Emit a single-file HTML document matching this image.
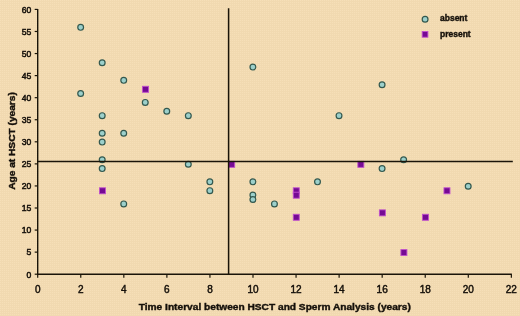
<!DOCTYPE html>
<html lang="en"><head><meta charset="utf-8"><title>Age at HSCT vs Time Interval</title>
<style>html,body{margin:0;padding:0;background:#F2DAB2;}body{width:520px;height:316px;overflow:hidden;}svg{display:block;}text{font-family:"Liberation Sans",Arial,sans-serif;fill:#15100a;stroke:#15100a;stroke-width:0.3px;}.yl text{stroke-width:0.5px;}.xl text{stroke-width:0.45px;}.lg text{stroke-width:0.4px;}</style></head><body>
<svg width="520" height="316" viewBox="0 0 520 316">
<defs><pattern id="tx" width="2" height="2" patternUnits="userSpaceOnUse"><rect width="2" height="2" fill="#F1D9B0"/><rect width="1" height="1" fill="#F6DFB8"/></pattern></defs>
<rect width="520" height="316" fill="url(#tx)"/>
<g stroke="#1a1408" stroke-width="1.4" fill="none">
<line x1="37.70" y1="8.92" x2="37.70" y2="274.90"/>
<line x1="37.00" y1="274.20" x2="511.86" y2="274.20"/>
</g>
<g stroke="#1a1408" stroke-width="1.2" fill="none">
<line x1="34.70" y1="274.20" x2="37.70" y2="274.20"/>
<line x1="34.70" y1="252.13" x2="37.70" y2="252.13"/>
<line x1="34.70" y1="230.07" x2="37.70" y2="230.07"/>
<line x1="34.70" y1="208.00" x2="37.70" y2="208.00"/>
<line x1="34.70" y1="185.94" x2="37.70" y2="185.94"/>
<line x1="34.70" y1="163.88" x2="37.70" y2="163.88"/>
<line x1="34.70" y1="141.81" x2="37.70" y2="141.81"/>
<line x1="34.70" y1="119.74" x2="37.70" y2="119.74"/>
<line x1="34.70" y1="97.68" x2="37.70" y2="97.68"/>
<line x1="34.70" y1="75.61" x2="37.70" y2="75.61"/>
<line x1="34.70" y1="53.55" x2="37.70" y2="53.55"/>
<line x1="34.70" y1="31.48" x2="37.70" y2="31.48"/>
<line x1="34.70" y1="9.42" x2="37.70" y2="9.42"/>
<line x1="37.70" y1="274.20" x2="37.70" y2="277.70"/>
<line x1="80.76" y1="274.20" x2="80.76" y2="277.70"/>
<line x1="123.82" y1="274.20" x2="123.82" y2="277.70"/>
<line x1="166.88" y1="274.20" x2="166.88" y2="277.70"/>
<line x1="209.94" y1="274.20" x2="209.94" y2="277.70"/>
<line x1="253.00" y1="274.20" x2="253.00" y2="277.70"/>
<line x1="296.06" y1="274.20" x2="296.06" y2="277.70"/>
<line x1="339.12" y1="274.20" x2="339.12" y2="277.70"/>
<line x1="382.18" y1="274.20" x2="382.18" y2="277.70"/>
<line x1="425.24" y1="274.20" x2="425.24" y2="277.70"/>
<line x1="468.30" y1="274.20" x2="468.30" y2="277.70"/>
<line x1="511.36" y1="274.20" x2="511.36" y2="277.70"/>
</g>
<g class="yl" font-size="8.6" text-anchor="end">
<text x="31.4" y="277.50">0</text>
<text x="31.4" y="255.44">5</text>
<text x="31.4" y="233.37">10</text>
<text x="31.4" y="211.31">15</text>
<text x="31.4" y="189.24">20</text>
<text x="31.4" y="167.18">25</text>
<text x="31.4" y="145.11">30</text>
<text x="31.4" y="123.04">35</text>
<text x="31.4" y="100.98">40</text>
<text x="31.4" y="78.91">45</text>
<text x="31.4" y="56.85">50</text>
<text x="31.4" y="34.78">55</text>
<text x="31.4" y="12.72">60</text>
</g>
<g class="xl" font-size="10" text-anchor="middle">
<text x="37.70" y="293.3">0</text>
<text x="80.76" y="293.3">2</text>
<text x="123.82" y="293.3">4</text>
<text x="166.88" y="293.3">6</text>
<text x="209.94" y="293.3">8</text>
<text x="253.00" y="293.3">10</text>
<text x="296.06" y="293.3">12</text>
<text x="339.12" y="293.3">14</text>
<text x="382.18" y="293.3">16</text>
<text x="425.24" y="293.3">18</text>
<text x="468.30" y="293.3">20</text>
<text x="511.36" y="293.3">22</text>
</g>
<text transform="translate(274.8,309.7) scale(1.06,1)" font-size="9.6" font-weight="bold" text-anchor="middle" style="stroke-width:0.4px">Time Interval between HSCT and Sperm Analysis (years)</text>
<text transform="translate(14.7,141) rotate(-90) scale(1.06,1)" font-size="9.6" font-weight="bold" text-anchor="middle" style="stroke-width:0.4px">Age at HSCT (years)</text>
<g fill="#9CD0CB" stroke="#33584e" stroke-width="1.2">
<circle cx="80.66" cy="27.37" r="2.9"/>
<circle cx="80.66" cy="93.57" r="2.9"/>
<circle cx="102.19" cy="62.68" r="2.9"/>
<circle cx="102.19" cy="115.63" r="2.9"/>
<circle cx="102.19" cy="133.28" r="2.9"/>
<circle cx="102.19" cy="142.11" r="2.9"/>
<circle cx="102.19" cy="159.76" r="2.9"/>
<circle cx="102.19" cy="168.59" r="2.9"/>
<circle cx="123.72" cy="80.33" r="2.9"/>
<circle cx="123.72" cy="133.28" r="2.9"/>
<circle cx="123.72" cy="203.89" r="2.9"/>
<circle cx="145.25" cy="102.39" r="2.9"/>
<circle cx="166.78" cy="111.22" r="2.9"/>
<circle cx="188.31" cy="115.63" r="2.9"/>
<circle cx="188.31" cy="164.18" r="2.9"/>
<circle cx="209.84" cy="181.83" r="2.9"/>
<circle cx="209.84" cy="190.65" r="2.9"/>
<circle cx="252.90" cy="67.09" r="2.9"/>
<circle cx="252.90" cy="181.83" r="2.9"/>
<circle cx="252.90" cy="195.07" r="2.9"/>
<circle cx="252.90" cy="199.48" r="2.9"/>
<circle cx="274.43" cy="203.89" r="2.9"/>
<circle cx="317.49" cy="181.83" r="2.9"/>
<circle cx="339.02" cy="115.63" r="2.9"/>
<circle cx="382.08" cy="84.74" r="2.9"/>
<circle cx="382.08" cy="168.59" r="2.9"/>
<circle cx="403.61" cy="159.76" r="2.9"/>
<circle cx="468.20" cy="186.24" r="2.9"/>
<circle cx="425.1" cy="19.2" r="2.9"/>
</g>
<g fill="#750A94" stroke="#C050CC" stroke-width="0.9">
<rect x="99.49" y="187.80" width="6" height="6"/>
<rect x="142.55" y="86.30" width="6" height="6"/>
<rect x="228.67" y="161.32" width="6" height="6"/>
<rect x="293.26" y="187.80" width="6" height="6"/>
<rect x="293.26" y="192.22" width="6" height="6"/>
<rect x="293.26" y="214.28" width="6" height="6"/>
<rect x="357.85" y="161.32" width="6" height="6"/>
<rect x="379.38" y="209.87" width="6" height="6"/>
<rect x="400.91" y="249.58" width="6" height="6"/>
<rect x="422.44" y="214.28" width="6" height="6"/>
<rect x="443.97" y="187.80" width="6" height="6"/>
<rect x="422.2" y="31.5" width="5.7" height="5.7"/>
</g>
<g stroke="#1a1408" stroke-width="1.5" fill="none">
<line x1="228.60" y1="8.30" x2="228.60" y2="274.20"/>
<line x1="37.70" y1="161.50" x2="512.80" y2="161.50"/>
</g>
<g class="lg" font-size="8.5" font-weight="bold">
<text x="440" y="21.4">absent</text>
<text x="440" y="36.6">present</text>
</g>
</svg></body></html>
